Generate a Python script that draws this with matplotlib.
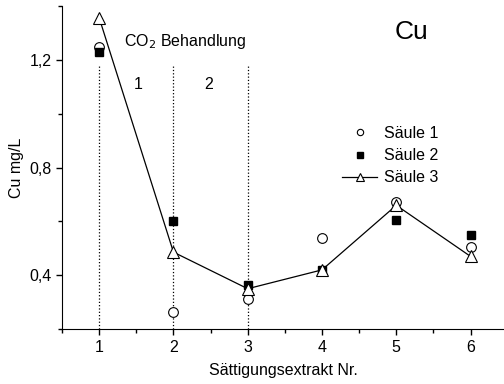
import numpy as np
import matplotlib
matplotlib.use('Agg')
import matplotlib.pyplot as plt
from matplotlib.ticker import MultipleLocator, FuncFormatter

plt.rcParams['font.family'] = ['Liberation Sans', 'DejaVu Sans']
plt.rcParams['font.size'] = 11.5

# Daten
extrakt = [1, 2, 3, 4, 5, 6]
saeule1 = [1.25, 0.265, 0.31, 0.538, 0.673, 0.505]
saeule2 = [1.23, 0.60, 0.363, 0.42, 0.607, 0.55]
saeule3 = [1.357, 0.486, 0.35, 0.42, 0.66, 0.47]
co2_linien = [1, 2, 3]

fig = plt.figure(figsize=(5.04, 3.84), dpi=100)
ax = fig.add_axes([0.123, 0.143, 0.877, 0.841])

ax.vlines(co2_linien, 0.2, 1.18, colors='black', linestyles=':', linewidth=0.9)

ax.plot(extrakt, saeule1, 'o', mfc='white', mec='black', ms=7, mew=0.8, label='Säule 1', zorder=3)
ax.plot(extrakt, saeule2, 's', mfc='black', mec='black', ms=6, label='Säule 2', zorder=3)
ax.plot(extrakt, saeule3, '-^', color='black', mfc='white', mec='black', ms=9, mew=0.8,
        lw=0.9, label='Säule 3', zorder=4)

ax.set_xlim(0.5, 6.45)
ax.set_ylim(0.2, 1.4)
ax.xaxis.set_major_locator(MultipleLocator(1))
ax.xaxis.set_minor_locator(MultipleLocator(0.5))
ax.yaxis.set_major_locator(MultipleLocator(0.4))
ax.yaxis.set_minor_locator(MultipleLocator(0.2))
ax.yaxis.set_major_formatter(FuncFormatter(lambda v, p: ('%.1f' % v).replace('.', ',')))
ax.tick_params(which='both', direction='out', length=4, width=1)
ax.tick_params(which='minor', length=3)

ax.spines['top'].set_visible(False)
ax.spines['right'].set_visible(False)

ax.set_xlabel('Sättigungsextrakt Nr.', labelpad=6)
ax.set_ylabel('Cu mg/L')

ax.text(2.16, 1.27, 'CO$_2$ Behandlung', ha='center', va='center')
ax.text(1.52, 1.11, '1', ha='center', va='center')
ax.text(2.48, 1.11, '2', ha='center', va='center')
ax.text(5.2, 1.305, 'Cu', ha='center', va='center', fontsize=19)

ax.legend(loc='upper left', bbox_to_anchor=(0.679, 0.672), bbox_transform=fig.transFigure,
          frameon=False, markerscale=0.65, handlelength=2.2, handletextpad=0.4,
          labelspacing=0.45, borderpad=0, borderaxespad=0)

fig.savefig('out.png', dpi=100)
